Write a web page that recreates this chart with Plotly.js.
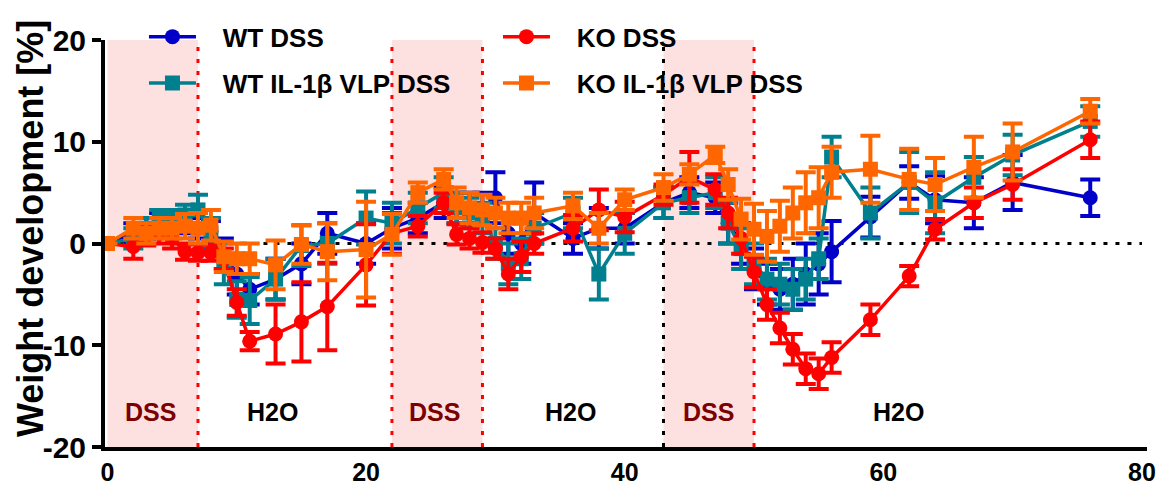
<!DOCTYPE html>
<html>
<head>
<meta charset="utf-8">
<script src="https://cdn.plot.ly/plotly-3.0.1.min.js"></script>
<style>
html,body{margin:0;padding:0;background:#fff;}
#chart{width:1161px;height:486px;}
</style>
</head>
<body>
<div id="chart"></div>
<script>
// Measurement days
var days = [0,2,3,4,5,6,7,8,9,10,11,13,15,17,20,22,24,26,27,28,29,30,31,32,33,36,38,40,43,45,47,48,49,50,51,52,53,54,55,56,59,62,64,67,70,76];

// WT DSS
var wtDSS     = [0,1.0,1.5,2.0,2.2,2.0,1.5,1.2,-1.0,-3.0,-4.5,-3.5,-2.0,1.0,0.0,1.5,2.5,4.0,3.5,3.5,3.5,4.5,1.0,0.0,3.0,0.5,1.5,1.5,4.0,5.0,4.5,2.0,0.0,-2.5,-4.0,-4.5,-4.0,-3.0,-2.0,-0.8,2.6,6.0,4.3,4.0,6.0,4.5];
var wtDSSerr  = [0,1.0,1.0,1.0,0.8,1.0,1.0,1.0,1.5,2.0,1.5,2.0,2.0,2.0,2.0,2.0,1.5,1.5,1.5,1.5,1.5,2.5,2.0,2.0,3.0,1.5,2.0,1.5,1.5,1.5,1.5,2.0,2.0,2.0,2.0,2.0,2.5,3.0,3.0,3.0,2.0,1.6,2.3,2.5,2.7,1.8];

// KO DSS
var koDSS     = [0,-0.3,0.8,1.0,0.5,-0.8,-0.9,-0.9,-1.5,-5.8,-9.6,-8.9,-7.7,-6.2,-2.1,1.0,1.7,4.0,0.9,0.5,0.1,-0.5,-3.0,-1.3,0.0,1.5,3.3,2.6,4.8,6.5,5.3,3.0,0.5,-2.8,-6.0,-8.3,-10.4,-12.3,-12.8,-11.2,-7.5,-3.2,1.4,4.0,5.8,10.2];
var koDSSerr  = [0,1.2,1.0,1.0,1.0,0.8,0.8,0.8,1.0,1.3,0.9,2.9,3.9,4.3,4.0,2.0,1.0,1.0,1.0,1.0,1.0,1.0,1.5,1.5,1.0,1.3,2.0,1.5,1.0,2.5,1.5,1.5,1.5,1.5,1.5,1.5,1.5,1.5,1.5,1.5,1.5,1.0,1.0,1.5,1.5,1.8];

// WT IL-1beta VLP DSS
var wtVLP     = [0,0.5,1.5,2.5,2.5,2.8,3.3,1.0,-2.0,-5.5,-5.6,-3.5,-0.2,0.0,2.5,2.0,3.5,5.0,3.5,3.0,2.5,0.0,-2.0,-1.5,1.5,3.0,-3.0,1.0,4.0,4.5,5.0,2.0,-0.5,-2.0,-3.5,-4.0,-4.5,-3.5,-1.5,8.5,3.0,6.0,4.0,6.5,8.7,12.0];
var wtVLPerr  = [0,1.0,1.0,0.8,0.8,1.0,1.5,1.5,2.0,1.8,2.3,2.0,2.0,2.0,2.6,2.0,1.5,1.5,1.5,1.5,1.5,1.5,2.0,2.0,1.5,1.5,2.5,2.0,1.5,1.5,1.5,2.0,2.0,2.0,2.0,2.0,2.0,2.0,2.0,2.0,2.5,3.0,3.0,2.0,2.0,1.5];

// KO IL-1beta VLP DSS
var koVLP     = [0,1.5,1.0,1.5,1.5,1.7,1.5,1.8,-1.3,-1.5,-1.5,-2.1,-0.1,-0.8,-0.6,0.9,5.0,6.3,4.0,3.5,3.3,3.0,2.5,2.5,3.0,3.7,1.5,4.3,5.5,6.8,8.7,5.8,2.4,1.4,0.7,1.7,3.0,4.0,4.5,7.0,7.3,6.3,5.8,7.5,9.0,13.0];
var koVLPerr  = [0,1.0,1.0,1.0,1.0,1.2,1.5,1.5,1.5,1.5,1.5,2.4,1.9,2.8,4.7,2.0,1.0,1.0,1.5,1.5,1.5,1.5,1.5,1.5,1.5,1.3,1.5,1.0,1.3,1.0,0.8,1.5,2.0,2.5,2.5,2.5,2.5,3.0,3.0,2.5,3.3,3.0,2.6,3.0,2.8,1.2];

// Treatment phases
var dssStart = [0, 22, 43];
var dssEnd   = [7, 29, 50];
var phaseLabels = ["DSS","H2O","DSS","H2O","DSS","H2O"];
var phaseLabelX = [3.3, 12.8, 25.3, 35.8, 46.5, 61.2];

// Axis ticks
var xTicks = [0,20,40,60,80];
var yTicks = [-20,-10,0,10,20];
var yTickText = ["-20","-10","0","10","20"];
var yTitle = "Weight development [%]";

var FONT = "Arial, 'Liberation Sans', sans-serif";
var PAD = "\u00a0\u00a0\u00a0";

function series(name, y, err, color, symbol, legendName, rank) {
  return {
    type: 'scatter', mode: 'lines+markers', name: PAD + name,
    x: days, y: y,
    line: {color: color, width: 3.5},
    marker: {color: color, symbol: symbol, size: 15},
    error_y: {type: 'data', array: err, visible: true, color: color, thickness: 4, width: 10},
    legend: legendName, legendrank: rank
  };
}

var traces = [
  series('WT DSS', wtDSS, wtDSSerr, '#0000C8', 'circle', 'legend', 1),
  series('WT IL-1β VLP DSS', wtVLP, wtVLPerr, '#00808F', 'square', 'legend2', 3),
  series('KO DSS', koDSS, koDSSerr, '#FF0000', 'circle', 'legend', 2),
  series('KO IL-1β VLP DSS', koVLP, koVLPerr, '#FF6600', 'square', 'legend2', 4)
];

var shapes = [];
for (var i = 0; i < dssStart.length; i++) {
  shapes.push({type:'rect', xref:'x', yref:'y', x0: dssStart[i], x1: dssEnd[i], y0:-20, y1:20,
    fillcolor:'#FDE0E0', line:{width:0}, layer:'below'});
}
var redLines = [7, 22, 29, 50];
redLines.forEach(function(v){
  shapes.push({type:'line', xref:'x', yref:'y', x0:v, x1:v, y0:-20, y1:20,
    line:{color:'#FF0000', width:3, dash:'4px,8px'}, layer:'below'});
});
shapes.push({type:'line', xref:'x', yref:'y', x0:43, x1:43, y0:-20, y1:20,
  line:{color:'#000000', width:3, dash:'4px,8px'}, layer:'below'});
shapes.push({type:'line', xref:'x', yref:'y', x0:0, x1:80, y0:0, y1:0,
  line:{color:'#000000', width:3, dash:'4px,8px'}, layer:'below'});

var annotations = phaseLabels.map(function(t, i){
  return {x: phaseLabelX[i], y: -16.6, xref:'x', yref:'y', text: t, showarrow:false,
    font:{family:FONT, size:25, weight:'bold', color: t === 'DSS' ? '#7B0000' : '#000000'}};
});
annotations.push({xref:'paper', yref:'paper', x:-0.072, y:0.538, xanchor:'center', yanchor:'middle',
  text: yTitle, textangle:-90, showarrow:false,
  font:{family:FONT, size:36, weight:'bold', color:'#000'}});

var legendBase = function(y){
  return {orientation:'h', x:0.0374, y:y, xanchor:'left', yanchor:'middle',
    entrywidth: 292, entrywidthmode:'pixels', itemwidth: 47,
    bgcolor:'rgba(0,0,0,0)', borderwidth:0,
    font:{family:FONT, size:26, weight:'bold', color:'#000'}};
};

var layout = {
  width:1161, height:486,
  margin:{l:105, r:14, t:40, b:39},
  paper_bgcolor:'#fff', plot_bgcolor:'rgba(0,0,0,0)',
  showlegend:true,
  legend: legendBase(1.008),
  legend2: legendBase(0.894),
  xaxis:{range:[-0.19, 80.39], tickvals:xTicks, ticks:'', ticklen:0, showgrid:false, zeroline:false,
    showline:true, linecolor:'#000', linewidth:4,
    tickfont:{family:FONT, size:25, weight:'bold', color:'#000'}},
  yaxis:{range:[-20,20], tickvals:yTicks, ticktext:yTickText, ticks:'outside', ticklen:9, tickwidth:4, tickcolor:'#000',
    showgrid:false, zeroline:false, showline:true, linecolor:'#000', linewidth:4,
    tickfont:{family:FONT, size:30, weight:'bold', color:'#000'}},
  shapes: shapes,
  annotations: annotations
};

Plotly.newPlot('chart', traces, layout, {displayModeBar:false, staticPlot:true});
</script>
</body>
</html>
